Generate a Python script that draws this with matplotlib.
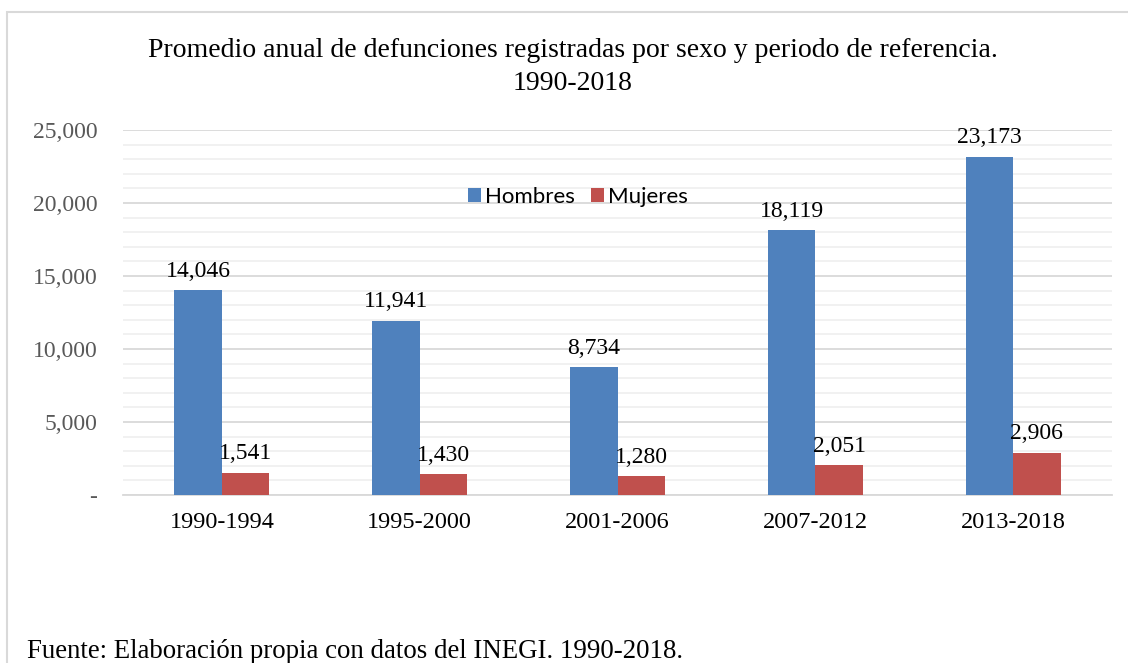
import numpy as np
import matplotlib.pyplot as plt
from matplotlib.patches import Rectangle
from matplotlib.ticker import MultipleLocator, FuncFormatter

periodos = ["1990-1994", "1995-2000", "2001-2006", "2007-2012", "2013-2018"]
hombres = [14046, 11941, 8734, 18119, 23173]
mujeres = [1541, 1430, 1280, 2051, 2906]

titulo = "Promedio anual de defunciones registradas por sexo y periodo de referencia.\n1990-2018"
fuente = "Fuente: Elaboración propia con datos del INEGI. 1990-2018."

azul = "#4F81BD"
rojo = "#C0504D"
serif = "Liberation Serif"

W, H = 1128, 663
fig = plt.figure(figsize=(W / 100, H / 100), dpi=100)
ax = fig.add_axes([123 / W, 1 - 495 / H, (1112 - 123) / W, (495 - 130) / H])

x = np.arange(len(periodos))
ancho = 0.24
b1 = ax.bar(x - ancho / 2, hombres, ancho, color=azul, label="Hombres", zorder=3)
b2 = ax.bar(x + ancho / 2, mujeres, ancho, color=rojo, label="Mujeres", zorder=3)

for barras in (b1, b2):
    for b in barras:
        v = b.get_height()
        ax.annotate(f"{v:,.0f}", (b.get_x() + b.get_width() / 2, v),
                    xytext=(0, 6), textcoords="offset points",
                    ha="center", va="bottom", fontsize=17, family=serif, color="#000000")

ax.set_xlim(-0.5, len(periodos) - 0.5)
ax.set_ylim(0, 25000)
ax.yaxis.set_major_locator(MultipleLocator(5000))
ax.yaxis.set_minor_locator(MultipleLocator(1000))
ax.yaxis.set_major_formatter(FuncFormatter(lambda v, p: "-" if v == 0 else f"{v:,.0f}"))
ax.grid(axis="y", which="major", color="#d9d9d9", linewidth=1.3, zorder=0)
ax.grid(axis="y", which="minor", color="#f0f0f0", linewidth=1.3, zorder=0)
ax.set_axisbelow(True)

for s in ["top", "right", "left"]:
    ax.spines[s].set_visible(False)
ax.spines["bottom"].set_color("#d9d9d9")
ax.spines["bottom"].set_linewidth(1.3)

ax.set_xticks(x)
ax.set_xticklabels(periodos, family=serif, fontsize=17.5, color="#000000")
ax.tick_params(axis="x", length=0, pad=12)
ax.tick_params(axis="y", which="both", length=0, pad=18.5, labelsize=17, labelcolor="#595959")
for t in ax.get_yticklabels():
    t.set_family(serif)

ax.legend(loc="center", bbox_to_anchor=(0.46, 0.816), ncol=2, frameon=False,
          prop={"family": "Lato", "size": 16}, handlelength=0.6, handleheight=0.6,
          handletextpad=0.2, columnspacing=0.7)

fig.text(573 / W, 1 - 67 / H, titulo, ha="center", va="center", family=serif,
         fontsize=20, color="#000000", linespacing=1.42)
fig.text(27 / W, 1 - 651 / H, fuente, ha="left", va="center", family=serif,
         fontsize=19.4, color="#000000")

fig.add_artist(Rectangle((7 / W, -0.1), 1.2, 1 - 12 / H + 0.1, transform=fig.transFigure,
                         fill=False, edgecolor="#d9d9d9", linewidth=1.5))

fig.savefig("out.png", dpi=100)
